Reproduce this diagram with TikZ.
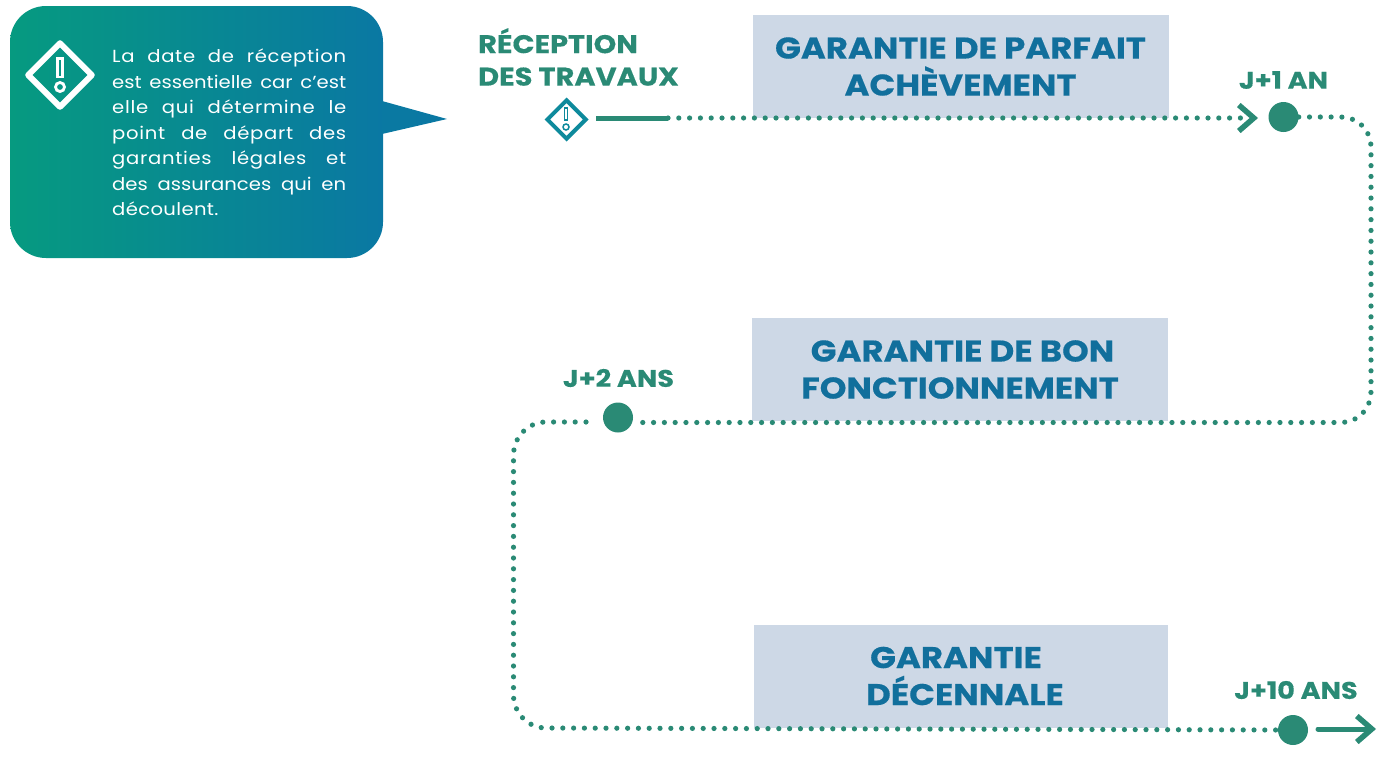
\documentclass[tikz,border=0pt]{standalone}
\usepackage{fontspec}
\setmainfont{Poppins}
\newfontfamily\widefont[FakeStretch=1.13,FakeBold=0.4]{Poppins}[BoldFont={Poppins Bold}]
\newfontfamily\bodyfont[FakeStretch=1.12]{Poppins}
\usetikzlibrary{shapes.geometric,arrows.meta}
\definecolor{tealgreen}{HTML}{2A8A75}
\definecolor{boxblue}{HTML}{CDD8E6}
\definecolor{titleblue}{HTML}{116F9C}
\definecolor{gradL}{HTML}{069A80}
\definecolor{gradR}{HTML}{0A78A3}
\definecolor{iconblue}{HTML}{0E8A9C}
\newcommand{\jline}[1]{\makebox[234pt][s]{#1}}
\newcommand{\jlinesp}[1]{\makebox[234pt][s]{\addfontfeature{LetterSpace=4}#1}}
\tikzset{
  x=1pt,y=-1pt,
  garbox/.style={fill=boxblue,minimum width=416pt,minimum height=103pt,inner sep=0pt,align=center,
    text=titleblue,font=\widefont\fontsize{30}{37}\selectfont\bfseries},
  datelabel/.style={text=tealgreen,font=\widefont\fontsize{25.5}{32.5}\selectfont\bfseries,inner sep=0pt,align=left},
  datesmall/.style={datelabel,font=\widefont\fontsize{24}{30}\selectfont\bfseries},
  datedot/.style={circle,fill=tealgreen,minimum size=30pt,inner sep=0pt},
  dotline/.style={draw=tealgreen,line width=5.2pt,line cap=round,dash pattern=on 0pt off 10.8pt},
  solidline/.style={draw=tealgreen,line width=5pt},
  chevtip/.style={-{Straight Barb[length=15pt,width=26pt,line width=5.5pt]}},
}
\begin{document}
\begin{tikzpicture}
\useasboundingbox (0,0) rectangle (1392,774);
% callout
\shade[left color=gradL,right color=gradR,rounded corners=36pt]
  (10,6) -- (383,6) -- (383,258) -- (10,258) -- cycle;
\shade[left color=gradR!97!gradL,right color=gradR] (382,101) -- (447,119) -- (382,134) -- cycle;
\node[diamond,draw=white,line width=6pt,line join=round,minimum size=66pt,inner sep=0pt] (calloutIcon) at (60,75) {};
\draw[white,line width=2.8pt] (57.5,58.5) rectangle (62.5,77);
\node[circle,draw=white,line width=2.8pt,minimum size=9pt,inner sep=0pt] (calloutDot) at (60,87) {};
\node[anchor=north west,inner sep=0pt,text=white,align=left,font=\bodyfont\fontsize{17.5}{25.5}\selectfont] (calloutText) at (112,49) {%
\jlinesp{La date de réception}\\
\jline{est essentielle car c’est}\\
\jlinesp{elle qui détermine le}\\
\jlinesp{point de départ des}\\
\jlinesp{garanties légales et}\\
\jline{des assurances qui en}\\
{\addfontfeature{LetterSpace=2}découlent.}};
% boxes
\node[garbox] (box1) at (960.5,66.5) {GARANTIE DE PARFAIT\\ACHÈVEMENT};
\node[garbox] (box2) at (960,369.5) {\hspace*{5pt}GARANTIE DE BON\\FONCTIONNEMENT};
\node[garbox,minimum width=414pt] (box3) at (961,676) {\hspace*{-10pt}GARANTIE\\\hspace*{8pt}DÉCENNALE};
% date nodes
\node[diamond,draw=iconblue,fill=white,line width=4pt,minimum size=40pt,inner sep=0pt] (start) at (566.5,119.5) {};
\draw[iconblue,line width=1.5pt] (564.5,108) rectangle (567.5,120);
\node[circle,draw=iconblue,line width=1.5pt,minimum size=6pt,inner sep=0pt] (startDot) at (566,127) {};
\node[datedot] (d1) at (1283.5,117) {};
\node[datedot] (d2) at (618,417.5) {};
\node[datedot] (d3) at (1293,730) {};
% labels
\node[datelabel,anchor=west] (lab0) at (478,57) {RÉCEPTION\\DES TRAVAUX};
\node[datesmall] (lab1) at (1283.5,80) {J+1 AN};
\node[datesmall] (lab2) at (618.5,378) {J+2 ANS};
\node[datesmall] (lab3) at (1296,690) {J+10 ANS};
% connectors
\coordinate (solidEnd) at (668,118);
\coordinate (tip1) at (1258,118);
\coordinate (c1a) at (1340,117);
\coordinate (c1b) at (1371,148);
\coordinate (c1c) at (1371,391);
\coordinate (c1d) at (1340,422.5);
\coordinate (l2) at (634,422.5);
\coordinate (r2) at (586,422);
\coordinate (c2a) at (546,422);
\coordinate (c2b) at (513.5,455);
\coordinate (c2c) at (513.5,695);
\coordinate (c2d) at (546,728);
\coordinate (arrow0) at (1318,729);
\coordinate (arrowEnd) at (1376,729);
\draw[solidline] (596,118) -- (solidEnd);
\draw[dotline,chevtip] (solidEnd) -- (tip1);
\draw[dotline] (d1.east) -- (c1a) .. controls (1358,117) and (1371,130) .. (c1b) -- (c1c)
  .. controls (1371,409) and (1358,422.5) .. (c1d) -- (l2);
\draw[dotline] (r2) -- (c2a) .. controls (528,422) and (513.5,437) .. (c2b) -- (c2c)
  .. controls (513.5,713) and (528,728) .. (c2d) -- (d3.west);
\draw[solidline,line cap=round,chevtip] (arrow0) -- (arrowEnd);
\end{tikzpicture}
\end{document}
